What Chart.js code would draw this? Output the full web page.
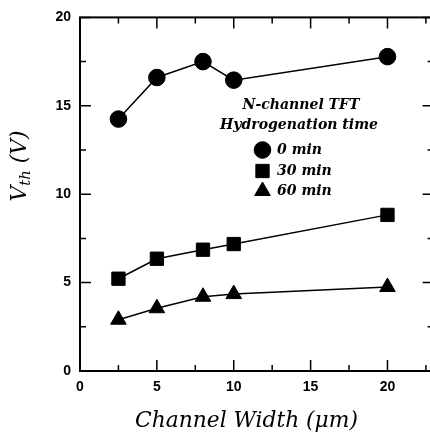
<!DOCTYPE html>
<html><head><meta charset="utf-8">
<script src="https://cdn.jsdelivr.net/npm/chart.js@4"></script>
<style>
html,body{margin:0;padding:0;overflow:hidden;background:#fff;width:430px;height:433px}
#wrap{width:444px;height:433px;position:relative}
</style>
</head><body><div id="wrap"><canvas id="c" width="444" height="433"></canvas></div>
<script>
// ---- data ----
const channelWidth = [2.5, 5, 8, 10, 20];
const vth0min  = [14.25, 16.6, 17.5, 16.45, 17.78];
const vth30min = [5.22, 6.35, 6.86, 7.18, 8.83];
const vth60min = [2.9, 3.55, 4.2, 4.35, 4.75];
const seriesLabels = ['0 min', '30 min', '60 min'];
const pointStyles = ['circle', 'rect', 'triangle'];
const xTickLabels = [0, 5, 10, 15, 20];
const yTickLabels = [0, 5, 10, 15, 20];
const legendTitle = ['N-channel TFT', 'Hydrogenation time'];
const xTitle = 'Channel Width (μm)';
const yTitleMain = 'V', yTitleSub = 'th', yTitleUnit = ' (V)';

const toXY = vals => channelWidth.map((w, i) => ({x: w, y: vals[i]}));
const radii = [8.3, 9.4, 9];

function fitSize(ctx, text, style, family, target) {
  ctx.font = style + ' 100px ' + family;
  return 100 * target / ctx.measureText(text).width;
}

const decor = {
  id: 'decor',
  beforeDatasetsDraw(chart) {
    const {ctx, chartArea: a, scales: {x, y}} = chart;
    ctx.save();
    ctx.strokeStyle = '#000';
    ctx.lineWidth = 2;
    ctx.strokeRect(a.left, a.top, a.right - a.left, a.bottom - a.top);
    ctx.lineWidth = 1.5;
    x.ticks.forEach(t => {
      const px = x.getPixelForValue(t.value);
      const L = (t.value % 5 === 0) ? 11 : 6;
      ctx.beginPath();
      ctx.moveTo(px, a.bottom); ctx.lineTo(px, a.bottom - L);
      ctx.moveTo(px, a.top); ctx.lineTo(px, a.top + L);
      ctx.stroke();
    });
    y.ticks.forEach(t => {
      const py = y.getPixelForValue(t.value);
      const L = (t.value % 5 === 0) ? 11 : 6;
      ctx.beginPath();
      ctx.moveTo(a.left, py); ctx.lineTo(a.left + L, py);
      ctx.moveTo(a.right, py); ctx.lineTo(a.right - L, py);
      ctx.stroke();
    });
    ctx.restore();
  },
  afterDraw(chart) {
    const {ctx} = chart;
    const serif = '"DejaVu Serif"';
    ctx.save();
    ctx.fillStyle = '#000';
    ctx.strokeStyle = '#000';
    // x title
    const xs = fitSize(ctx, xTitle, 'italic', serif, 223);
    ctx.font = 'italic ' + xs + 'px ' + serif;
    ctx.textAlign = 'center';
    ctx.textBaseline = 'middle';
    ctx.fillText(xTitle, 246.5, 421);
    // y title with subscript
    ctx.save();
    ctx.translate(20, 166);
    ctx.rotate(-Math.PI / 2);
    const big = 'italic ' + xs + 'px ' + serif;
    const small = 'italic ' + (xs * 0.68) + 'px ' + serif;
    ctx.font = big; const w1 = ctx.measureText(yTitleMain).width;
    const w3 = ctx.measureText(yTitleUnit).width;
    ctx.font = small; const w2 = ctx.measureText(yTitleSub).width;
    let cx = -(w1 + w2 + w3) / 2;
    ctx.textAlign = 'left';
    ctx.textBaseline = 'alphabetic';
    ctx.font = big; ctx.fillText(yTitleMain, cx, 6); cx += w1;
    ctx.font = small; ctx.fillText(yTitleSub, cx, 10); cx += w2;
    ctx.font = big; ctx.fillText(yTitleUnit, cx, 6);
    ctx.restore();
    // legend
    const ls = fitSize(ctx, legendTitle[1], 'italic bold', serif, 158);
    ctx.font = 'italic bold ' + ls + 'px ' + serif;
    ctx.textAlign = 'center';
    ctx.textBaseline = 'middle';
    ctx.fillText(legendTitle[0], 301, 105);
    ctx.fillText(legendTitle[1], 299, 125);
    const rowY = [150, 171, 191];
    ctx.textAlign = 'left';
    chart.data.datasets.forEach((ds, i) => {
      ctx.fillStyle = '#000';
      Chart.helpers.drawPoint(ctx, {pointStyle: ds.pointStyle, radius: ds.pointRadius, rotation: 0, borderWidth: 1}, 262.5, rowY[i]);
      ctx.fillText(ds.label, 277, rowY[i]);
    });
    ctx.restore();
  }
};

const tickFont = {family: '"Liberation Sans", Arial, sans-serif', size: 14, weight: 'bold'};

new Chart(document.getElementById('c'), {
  type: 'scatter',
  data: {
    datasets: [vth0min, vth30min, vth60min].map((v, i) => ({
      label: seriesLabels[i],
      data: toXY(v),
      showLine: true,
      borderColor: '#000',
      borderWidth: 1.5,
      backgroundColor: '#000',
      pointStyle: pointStyles[i],
      pointRadius: radii[i],
      pointBorderWidth: 1,
      pointBackgroundColor: '#000',
      pointBorderColor: '#000',
      tension: 0
    }))
  },
  options: {
    responsive: false,
    animation: false,
    devicePixelRatio: 1,
    layout: {padding: {top: 15, right: 8, left: 0, bottom: 0}},
    plugins: {legend: {display: false}, tooltip: {enabled: false}},
    scales: {
      x: {
        type: 'linear', min: 0, max: 23,
        grid: {display: false, drawTicks: false, tickLength: 0}, border: {display: false},
        ticks: {
          stepSize: 2.5, includeBounds: false, autoSkip: false, maxRotation: 0,
          color: '#000', font: tickFont, padding: 8,
          callback: v => xTickLabels.includes(v) ? String(v) : ''
        },
        afterFit: s => { s.height = 62; }
      },
      y: {
        type: 'linear', min: 0, max: 20,
        grid: {display: false, drawTicks: false, tickLength: 0}, border: {display: false},
        ticks: {
          stepSize: 2.5, includeBounds: false, autoSkip: false,
          color: '#000', font: tickFont, padding: 9,
          callback: v => yTickLabels.includes(v) ? String(v) : ''
        },
        afterFit: s => { s.width = 80; }
      }
    }
  },
  plugins: [decor]
});
</script>
</body></html>
